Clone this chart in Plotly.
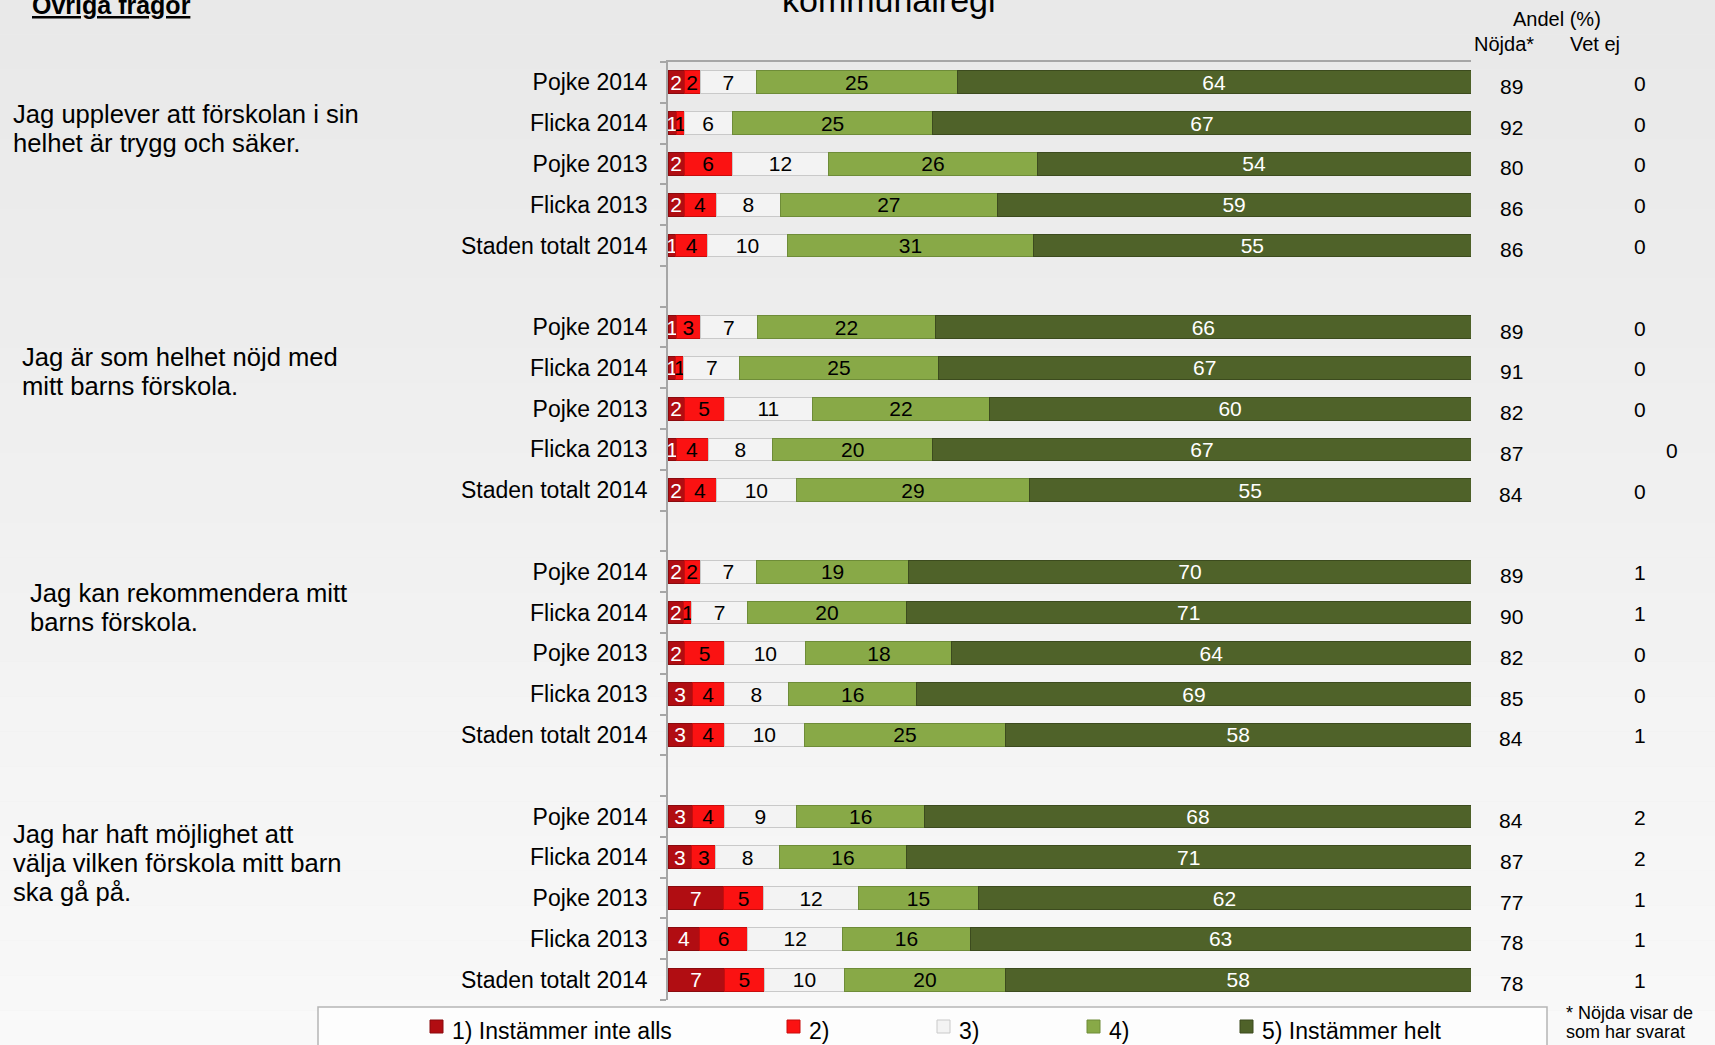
import plotly.graph_objects as go

# Data
row_labels = ['Pojke 2014', 'Flicka 2014', 'Pojke 2013', 'Flicka 2013', 'Staden totalt 2014']
questions = [
    ['Jag upplever att förskolan i sin', 'helhet är trygg och säker.'],
    ['Jag är som helhet nöjd med', 'mitt barns förskola.'],
    ['Jag kan rekommendera mitt', 'barns förskola.'],
    ['Jag har haft möjlighet att', 'välja vilken förskola mitt barn', 'ska gå på.'],
]
level_names = ['1) Instämmer inte alls', '2)', '3)', '4)', '5) Instämmer helt']

s1 = [2, 1, 2, 2, 1, 1, 1, 2, 1, 2, 2, 2, 2, 3, 3, 3, 3, 7, 4, 7]
s2 = [2, 1, 6, 4, 4, 3, 1, 5, 4, 4, 2, 1, 5, 4, 4, 4, 3, 5, 6, 5]
s3 = [7, 6, 12, 8, 10, 7, 7, 11, 8, 10, 7, 7, 10, 8, 10, 9, 8, 12, 12, 10]
s4 = [25, 25, 26, 27, 31, 22, 25, 22, 20, 29, 19, 20, 18, 16, 25, 16, 16, 15, 16, 20]
s5 = [64, 67, 54, 59, 55, 66, 67, 60, 67, 55, 70, 71, 64, 69, 58, 68, 71, 62, 63, 58]
nojda = [89, 92, 80, 86, 86, 89, 91, 82, 87, 84, 89, 90, 82, 85, 84, 84, 87, 77, 78, 78]
vet_ej = [0, 0, 0, 0, 0, 0, 0, 0, 0, 0, 1, 1, 0, 0, 1, 2, 2, 1, 1, 1]

# Styling
colors = ['#b10d12', '#fb1212', '#f3f3f3', '#88a947', '#4f6229']
line_colors = ['#8a0a0e', '#c80c0c', '#c9c9c9', '#6e8c38', '#3c4b1e']
text_colors = ['white', 'black', 'black', 'black', 'white']
FONT = 'Liberation Sans, Arial, sans-serif'

W, H = 1715, 1045
L, R, T, B = 668, 1471, 62, 1000


def px(x):
    return (x - L) / (R - L)


def py(y):
    return (B - y) / (B - T)


def label(x, y, text, size, xanchor='center', yanchor='middle', **kw):
    return dict(xref='paper', yref='paper', x=px(x), y=py(y), xanchor=xanchor, yanchor=yanchor,
                text=text, showarrow=False, font=dict(size=size, color='black', family=FONT), **kw)


# each group of 5 rows, one empty slot between groups
n_groups = len(questions)
ypos = [g * 6 + i for g in range(n_groups) for i in range(len(row_labels))]
ylabels = row_labels * n_groups
n_slots = n_groups * 6 - 1

fig = go.Figure()
for k, vals in enumerate([s1, s2, s3, s4, s5]):
    fig.add_trace(go.Bar(
        x=vals, y=ypos, orientation='h', name=level_names[k],
        text=vals, texttemplate='%{text}', textposition='inside',
        insidetextanchor='middle', textangle=0,
        textfont=dict(color=text_colors[k], size=21, family=FONT),
        marker=dict(color=colors[k], line=dict(color=line_colors[k], width=1)),
        showlegend=False, hoverinfo='skip',
    ))

annotations = []
shapes = []

# background gradient
n_bands = 30
for b in range(n_bands):
    c = int(233 + (249 - 233) * b / (n_bands - 1))
    shapes.append(dict(type='rect', xref='paper', yref='paper', layer='below',
                       x0=px(0), x1=px(W), y0=py(H * (b + 1) / n_bands), y1=py(H * b / n_bands),
                       line=dict(width=0), fillcolor=f'rgb({c},{c},{c})'))

# Nöjda / Vet ej columns
vet_ej_shift = {8: 32}
for i, y in enumerate(ypos):
    annotations.append(dict(xref='paper', yref='y', x=px(1511), y=y, yshift=-4,
                            xanchor='center', yanchor='middle',
                            text=str(nojda[i]), showarrow=False,
                            font=dict(size=21, color='black', family=FONT)))
    annotations.append(dict(xref='paper', yref='y', x=px(1640 + vet_ej_shift.get(i, 0)), y=y, yshift=-1,
                            xanchor='center', yanchor='middle',
                            text=str(vet_ej[i]), showarrow=False,
                            font=dict(size=21, color='black', family=FONT)))

annotations.append(label(1557, 19, 'Andel (%)', 20))
annotations.append(label(1504, 44, 'Nöjda*', 20))
annotations.append(label(1595, 44, 'Vet ej', 20))

# title pieces (cut by the top edge as in the original slide)
annotations.append(label(889, 21, 'kommunalregi', 34, yanchor='bottom'))
annotations.append(label(30, 21, '<b><u>Övriga frågor</u></b>', 25, xanchor='left', yanchor='bottom'))

# question texts
q_pos = [(11, 114), (20, 357), (28, 593), (11, 834)]
for q, (x0, y0) in zip(questions, q_pos):
    for j, line in enumerate(q):
        annotations.append(label(x0, y0 + j * 29, line, 25.6, xanchor='left'))

# legend box
shapes.append(dict(type='rect', xref='paper', yref='paper', layer='below',
                   x0=px(318), x1=px(1547), y0=py(1060), y1=py(1007),
                   line=dict(color='#b5b5b5', width=1.5), fillcolor='#fdfdfd'))
leg_x = [430, 787, 937, 1087, 1240]
for k, name in enumerate(level_names):
    shapes.append(dict(type='rect', xref='paper', yref='paper', layer='below',
                       x0=px(leg_x[k]), x1=px(leg_x[k] + 13), y0=py(1033), y1=py(1020),
                       line=dict(color=line_colors[k], width=1), fillcolor=colors[k]))
    annotations.append(label(leg_x[k] + 20, 1031, name, 23, xanchor='left'))

# footnote
for j, line in enumerate(['* Nöjda visar de', 'som har svarat']):
    annotations.append(label(1564, 1013 + j * 19, line, 18, xanchor='left'))

fig.update_layout(
    width=W, height=H, autosize=False,
    margin=dict(l=L, r=W - R, t=T, b=H - B, pad=0),
    barmode='stack', barnorm='percent', bargap=0.44,
    paper_bgcolor='#ededed', plot_bgcolor='rgba(0,0,0,0)',
    uniformtext=dict(minsize=21, mode='show'),
    font=dict(family=FONT, color='black'),
    annotations=annotations, shapes=shapes,
)
fig.update_xaxes(range=[0, 100], side='top', showline=True, linecolor='#a6a6a6', linewidth=1.5,
                 showticklabels=False, showgrid=False, zeroline=False, ticks='', fixedrange=True)
fig.update_yaxes(range=[n_slots - 0.5, -0.5], tickmode='array', tickvals=ypos, ticktext=ylabels,
                 ticks='', ticklabelstandoff=14, tickfont=dict(size=23, color='black', family=FONT),
                 showline=True, linecolor='#a6a6a6', linewidth=1.5, showgrid=False, zeroline=False,
                 minor=dict(tickmode='array', tickvals=[k - 0.5 for k in range(n_slots + 1)],
                            ticks='outside', ticklen=6, tickcolor='#a6a6a6', tickwidth=1.5, showgrid=False),
                 fixedrange=True)

fig.write_html('out.html', config={'displayModeBar': False},
               post_script="document.body.style.margin='0';document.body.style.overflow='hidden';")
